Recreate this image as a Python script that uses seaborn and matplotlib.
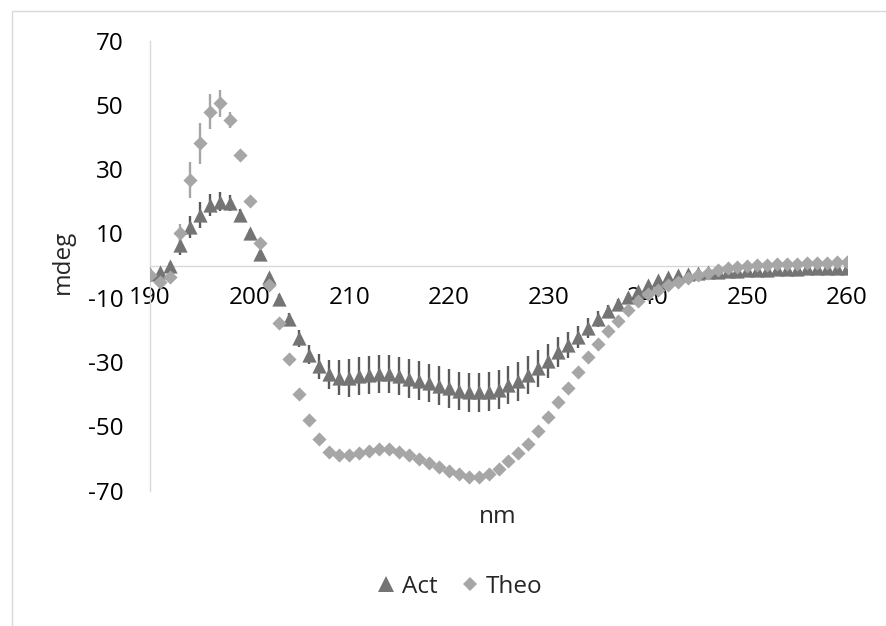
import numpy as np
import pandas as pd
import matplotlib
matplotlib.use("Agg")
import matplotlib.pyplot as plt
import seaborn as sns
from matplotlib.patches import Rectangle

# longueurs d'onde (nm)
wavelength = list(range(190, 261))

act = [-2.5, -2, 0, 6.3, 12, 15.7, 18.8, 19.9, 19.4, 15.7,
       10, 3.5, -3.7, -10.5, -16.7, -22.7, -27.7, -31.4, -33.8, -34.9,
       -35, -34.4, -34.0, -33.8, -33.8, -34.4, -35.2, -35.8, -36.6, -37.4,
       -38.2, -39, -39.5, -39.5, -39.2, -38.6, -37.2, -36, -34, -32,
       -29.6, -26.9, -24.8, -22.3, -19.4, -16.7, -14.3, -12, -9.9, -7.9,
       -6.2, -4.6, -3.7, -3.1, -2.7, -2.4, -2.1, -1.9, -1.7, -1.6,
       -1.5, -1.4, -1.3, -1.2, -1.1, -1.0, -0.9, -0.85, -0.8, -0.75, -0.7]

act_err = [0.5, 0.5, 1, 3, 3.5, 4, 3.5, 3, 2.5, 2,
           1.5, 1, 1, 1.5, 2, 2.5, 3, 4, 4.5, 5.5,
           6, 6, 6, 6, 6, 6, 6, 6, 6, 6,
           6, 6, 6, 6, 6, 6, 6, 6, 6, 5.8,
           5.3, 4.7, 4, 3.5, 3, 2.5, 2, 1.5, 1.2, 1,
           0.8, 0.6, 0.5, 0.3, 0.3, 0.3, 0.3, 0.3, 0.3, 0.3,
           0.3, 0.3, 0.3, 0.3, 0.3, 0.3, 0.3, 0.3, 0.3, 0.3, 0.3]

theo = [-3, -5, -3.5, 10, 26.6, 38, 47.9, 50.5, 45.3, 34.4,
        20.2, 6.9, -6, -18, -29, -40, -48, -54, -58, -59,
        -59, -58.3, -57.6, -57.0, -57.2, -58.1, -59.1, -60.2, -61.4, -62.8,
        -63.8, -64.9, -65.7, -65.9, -64.9, -63.2, -60.8, -58.2, -55.4, -51.5,
        -47.1, -42.6, -38, -33, -28.6, -24.4, -20.4, -17.3, -13.8, -11,
        -9, -7.5, -6, -5, -4, -3, -2.2, -1.5, -0.9, -0.4,
        0, 0.2, 0.3, 0.4, 0.5, 0.6, 0.7, 0.8, 0.9, 1.0, 1.1]

theo_err = [0.5, 0.5, 0.5, 3, 5.5, 6.3, 5.5, 4.2, 2.5, 1.5,
            1] + [0] * 60

x_ticks = list(range(190, 261, 10))
y_ticks = list(range(-70, 71, 20))

df = pd.DataFrame({"nm": wavelength, "Act": act, "Theo": theo})

sns.set_style("white")
plt.rcParams["font.family"] = ["Open Sans", "DejaVu Sans"]
plt.rcParams["axes.unicode_minus"] = False
fs = 17.5

fig = plt.figure(figsize=(8.87, 6.26), dpi=100)
ax = fig.add_axes([150 / 887, 135.5 / 626, 697 / 887, 450 / 626])

# barres d'erreur
ax.errorbar(df["nm"], df["Act"], yerr=act_err, fmt="none", ecolor="#5a5a5a",
            elinewidth=1.7, capsize=0, zorder=2)
ax.errorbar(df["nm"], df["Theo"], yerr=theo_err, fmt="none", ecolor="#a6a6a6",
            elinewidth=1.7, capsize=0, zorder=2)

sns.scatterplot(data=df, x="nm", y="Act", marker="^", s=105, color="#747474",
                linewidth=0, label="Act", ax=ax, zorder=3, legend=False)
sns.scatterplot(data=df, x="nm", y="Theo", marker="D", s=52, color="#a6a6a6",
                linewidth=0, label="Theo", ax=ax, zorder=4, legend=False)

ax.set_xlim(190, 260)
ax.set_ylim(-70, 70)
ax.set_xticks(x_ticks)
ax.set_yticks(y_ticks)
ax.set_xlabel("")
ax.set_ylabel("")

ax.spines["top"].set_visible(False)
ax.spines["right"].set_visible(False)
ax.spines["bottom"].set_position(("data", 0))
for s in ["left", "bottom"]:
    ax.spines[s].set_color("#d9d9d9")
    ax.spines[s].set_linewidth(1.0)
ax.tick_params(axis="x", length=0, pad=15, labelsize=fs, colors="black")
ax.tick_params(axis="y", length=0, pad=19, labelsize=fs, colors="black")
ax.patch.set_alpha(0)

fig.text(498 / 887, 1 - 517 / 626, "nm", ha="center", va="center", fontsize=fs)
fig.text(63 / 887, 1 - 262 / 626, "mdeg", ha="center", va="center",
         rotation=90, fontsize=fs)

handles = [
    plt.Line2D([], [], marker="^", linestyle="none", color="#747474",
               markersize=11, markeredgewidth=0),
    plt.Line2D([], [], marker="D", linestyle="none", color="#a6a6a6",
               markersize=7.5, markeredgewidth=0),
]
fig.legend(handles, ["Act", "Theo"], loc="center", ncol=2,
           bbox_to_anchor=(460 / 887, 1 - 587 / 626), frameon=False,
           fontsize=fs, handlelength=0.7, handletextpad=0.3, columnspacing=1.0)

# cadre du graphique
fig.patches.append(Rectangle((12.5 / 887, -0.05), 1.0, 1 - 11 / 626 + 0.05,
                             transform=fig.transFigure, fill=False,
                             edgecolor="#d9d9d9", linewidth=1.0, zorder=0))

fig.savefig("out.png", dpi=100)
plt.close()
